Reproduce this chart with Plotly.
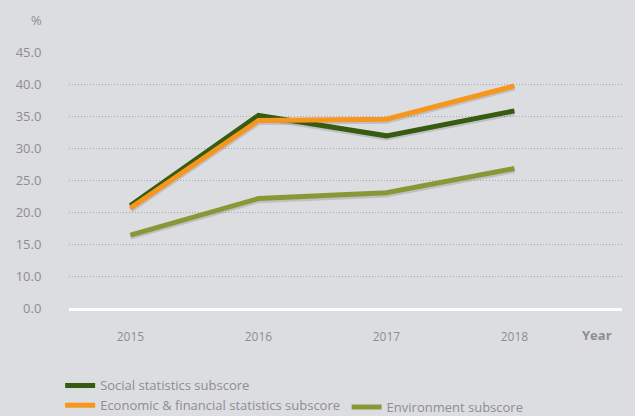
import plotly.graph_objects as go

# Subscore values (%) by year
years = ["2015", "2016", "2017", "2018"]
social = [21.0, 35.1, 31.9, 35.8]
economic = [20.6, 34.3, 34.5, 39.7]
environment = [16.4, 22.1, 23.0, 26.8]

# Y axis has a break between 0 and 10: the "0.0" label sits one step below 10
tick_vals = [5, 10, 15, 20, 25, 30, 35, 40, 45]
tick_text = ["0.0", "10.0", "15.0", "20.0", "25.0", "30.0", "35.0", "40.0", "45.0"]

series = [
    ("Social statistics subscore", social, "#365c12", "legend"),
    ("Economic & financial statistics subscore", economic, "#f7961f", "legend"),
    ("Environment subscore", environment, "#8a9736", "legend2"),
]

BG = "#dcdde1"
GREY = "#8e8e8e"

fig = go.Figure()

# soft drop shadows under each line
for name, vals, color, lg in series:
    fig.add_trace(go.Scatter(
        x=years, y=[v - 0.25 for v in vals], mode="lines",
        line=dict(color="rgba(90,90,90,0.22)", width=6),
        hoverinfo="skip", showlegend=False,
    ))

for name, vals, color, lg in series:
    fig.add_trace(go.Scatter(
        x=years, y=vals, mode="lines", name=name,
        line=dict(color=color, width=5),
        legend=lg,
    ))

fig.update_layout(
    width=635, height=416,
    margin=dict(l=69, r=13, t=52, b=108, autoexpand=False),
    paper_bgcolor=BG, plot_bgcolor=BG,
    font=dict(family="Open Sans", color=GREY, size=12),
    xaxis=dict(
        type="category", range=[-0.48, 3.84],
        showgrid=False, zeroline=False,
        showline=True, linecolor="white", linewidth=3,
        ticks="outside", ticklen=16, tickcolor="rgba(0,0,0,0)",
        tickfont=dict(size=12, color=GREY),
    ),
    yaxis=dict(
        range=[5, 45], tickvals=tick_vals, ticktext=tick_text,
        showgrid=True, gridcolor="#a9aaad", griddash="1px,2px", gridwidth=1,
        zeroline=False, showline=False,
        ticks="outside", ticklen=24, tickcolor="rgba(0,0,0,0)",
        tickfont=dict(size=13, color=GREY),
    ),
    legend=dict(
        x=-0.016, y=-0.244, xanchor="left", yanchor="top",
        orientation="v", bgcolor="rgba(0,0,0,0)",
        font=dict(size=13, color=GREY), tracegroupgap=0,
    ),
    legend2=dict(
        x=0.502, y=-0.328, xanchor="left", yanchor="top",
        orientation="v", bgcolor="rgba(0,0,0,0)",
        font=dict(size=13, color=GREY),
    ),
    annotations=[
        dict(text="%", xref="paper", yref="paper", x=-0.045, y=1.125,
             xanchor="right", yanchor="middle", showarrow=False,
             font=dict(size=13, color=GREY)),
        dict(text="<b>Year</b>", xref="paper", yref="paper", x=0.955, y=-0.105,
             xanchor="center", yanchor="middle", showarrow=False,
             font=dict(size=13, color=GREY)),
    ],
)

fig.write_html("out.html")
